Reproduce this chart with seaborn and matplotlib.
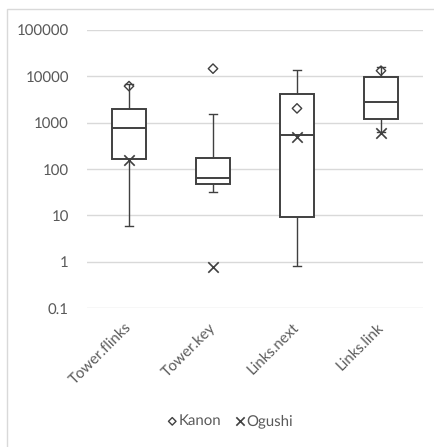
import numpy as np
import pandas as pd
import matplotlib
matplotlib.use("Agg")
import matplotlib.pyplot as plt
from matplotlib.ticker import FuncFormatter, NullLocator
from matplotlib.patches import Rectangle
import seaborn as sns

# ---- data ----
categories = ["Tower.flinks", "Tower.key", "Links.next", "Links.link"]
whisker_low = [6.0, 32, 0.83, 640]
quart1 = [162, 46.5, 9.1, 1180]
median = [776, 65, 540, 2800]
quart3 = [1920, 172, 4050, 9700]
whisker_high = [6700, 1550, 13800, 16000]
kanon = [6100, 14500, 2020, 13100]
ogushi = [155, 0.76, 500, 590]
y_ticks = [0.1, 1, 10, 100, 1000, 10000, 100000]
series_names = ["Kanon", "Ogushi"]

# five-number summaries -> long table for seaborn's box statistics
rows = []
for c, a, b, m, d, e in zip(categories, whisker_low, quart1, median, quart3, whisker_high):
    for v in (a, b, m, d, e):
        rows.append({"cat": c, "value": v})
box_df = pd.DataFrame(rows)

plt.rcParams["font.family"] = "Lato"
plt.rcParams["text.hinting"] = "no_hinting"
plt.rcParams["text.hinting_factor"] = 1

W, H = 435, 447
fig = plt.figure(figsize=(W / 100, H / 100), dpi=100)
ax = fig.add_axes([87 / W, 1 - 308.3 / H, 336 / W, (308.3 - 29.7) / H])

line_col = "#404040"
text_col = "#595959"

ax.set_yscale("log")
sns.boxplot(
    data=box_df, x="cat", y="value", order=categories, ax=ax,
    color="white", saturation=1, linecolor=line_col, linewidth=1.4,
    width=0.41, whis=(0, 100), fliersize=0,
    whiskerprops={"linewidth": 1.0}, capprops={"linewidth": 1.0},
)

# narrow the whisker caps
def _narrow(ln, half=0.05):
    xd = np.asarray(ln.get_xdata(), dtype=float)
    yd = np.asarray(ln.get_ydata(), dtype=float)
    if len(xd) == 2:
        c = float(xd.mean())
        ln.set_data([c - half, c + half], list(yd))

done = False
try:
    for cont in ax.containers:
        caps = getattr(cont, "caps", None)
        if caps:
            for cap in caps:
                _narrow(cap)
            done = True
except Exception:
    done = False
if not done:
    for ln in list(ax.lines):
        xd = np.asarray(ln.get_xdata(), dtype=float)
        yd = np.asarray(ln.get_ydata(), dtype=float)
        if (len(xd) == 2 and abs(yd[0] - yd[1]) <= 1e-9 * abs(yd[0])
                and abs(abs(xd[1] - xd[0]) - 0.205) < 0.02):
            _narrow(ln)

n0 = len(ax.collections)
sns.stripplot(x=categories, y=kanon, order=categories, jitter=False, ax=ax,
              marker="D", size=4.8, color=line_col, linewidth=1.0, zorder=5)
n1 = len(ax.collections)
sns.stripplot(x=categories, y=ogushi, order=categories, jitter=False, ax=ax,
              marker="x", size=7.5, color=line_col, linewidth=1.2, zorder=5)
n2 = len(ax.collections)
k_colls = ax.collections[n0:n1]
o_colls = ax.collections[n1:n2]
for cl in k_colls:
    cl.set_facecolor("none")
    cl.set_edgecolor(line_col)
for cl in o_colls:
    cl.set_edgecolor(line_col)
    cl.set_facecolor(line_col)

ax.set_ylim(0.1, 100000)
ax.set_xlim(-0.5, 3.5)
ax.set_yticks(y_ticks)
ax.yaxis.set_minor_locator(NullLocator())
ax.yaxis.set_major_formatter(FuncFormatter(lambda v, p: f"{v:g}"))
ax.grid(axis="y", color="#d9d9d9", linewidth=1.0)
ax.grid(axis="x", visible=False)
ax.set_axisbelow(True)
for s in ax.spines.values():
    s.set_visible(False)
ax.set_xlabel("")
ax.set_ylabel("")
ax.tick_params(axis="y", length=0, pad=13, labelsize=10.5, labelcolor=text_col)
ax.tick_params(axis="x", length=0, pad=12, labelsize=10.5, labelcolor=text_col)
ax.set_xticks(range(len(categories)))
ax.set_xticklabels(categories, rotation=45, ha="right", va="center",
                   rotation_mode="anchor")

leg = fig.legend([k_colls[0], o_colls[0]], series_names, loc="center",
                 bbox_to_anchor=(230 / W, 1 - 421 / H), ncol=2, frameon=False,
                 fontsize=10.5, handlelength=0.7, handletextpad=0.1,
                 columnspacing=0.9, markerscale=0.8)
for t in leg.get_texts():
    t.set_color(text_col)

# chart-area border (only top and left edges fall inside the image)
fig.add_artist(Rectangle((7.5 / W, -0.1), 2, 1.1 - 8.5 / H,
                         transform=fig.transFigure, fill=False,
                         edgecolor="#d9d9d9", linewidth=1.0))

fig.savefig("out.png", dpi=100, facecolor="white")
